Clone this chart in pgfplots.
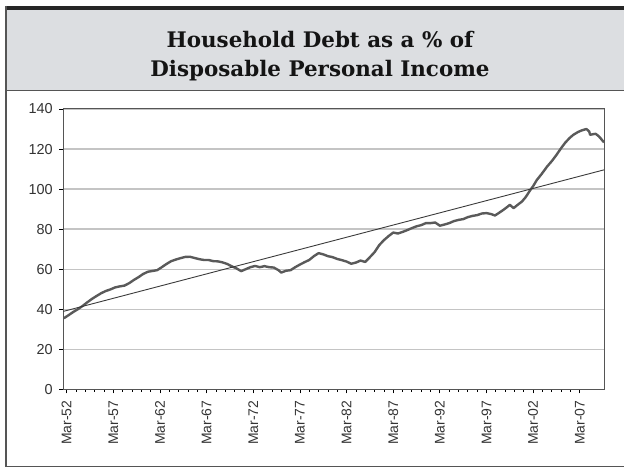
\documentclass[border=0pt]{standalone}
\usepackage{pgfplots}
\pgfplotsset{compat=1.18}
\usepackage{fontspec}
\newfontfamily\labelfont{Liberation Sans}
\newfontfamily\titlefont{DejaVu Serif}
\definecolor{bandgray}{HTML}{DCDEE1}
\definecolor{framegray}{HTML}{555555}
\definecolor{gridgray}{HTML}{C4C4C4}
\definecolor{curvegray}{HTML}{5A5A5A}
\definecolor{trendgray}{HTML}{3A3A3A}
\definecolor{labelgray}{HTML}{333333}
\begin{document}
\begin{tikzpicture}[x=1bp,y=1bp]
\useasboundingbox (0,0) rectangle (624,468);
% title band
\fill[bandgray] (6,458) rectangle (624,377.3);
\fill[black!85] (6,462) rectangle (624,458);
\draw[framegray,line width=1.5bp] (6,377.3) -- (624,377.3);
\draw[framegray,line width=1.2bp] (6,462) -- (6,1.3) -- (624,1.3);
\node[font={\titlefont\bfseries\fontsize{21.5}{29}\selectfont},align=center,text=black!92] at (320,412) {Household Debt as a \% of\\Disposable Personal Income};
\begin{axis}[
  at={(63.3bp,78.7bp)}, anchor=south west,
  scale only axis, width=540.7bp, height=280.3bp,
  xmin=1951.64, xmax=2009.59, ymin=0, ymax=140,
  ytick={0,20,...,140},
  xtick={1952,1957,...,2007},
  xticklabels={Mar-52,Mar-57,Mar-62,Mar-67,Mar-72,Mar-77,Mar-82,Mar-87,Mar-92,Mar-97,Mar-02,Mar-07},
  minor x tick num=4,
  xticklabel style={rotate=90,anchor=east,font={\labelfont\fontsize{14}{16}\selectfont},text=labelgray,xshift=-4bp},
  yticklabel style={font={\labelfont\fontsize{14.5}{16}\selectfont},text=labelgray,xshift=-3bp},
  /pgf/number format/assume math mode=true,
  ymajorgrids, grid style={gridgray,line width=1.3bp},
  axis line style={framegray,line width=1bp},
  tick style={black,line width=0.8bp},
  tick align=outside, major tick length=4bp, minor tick length=2.5bp,
  xtick pos=bottom, ytick pos=left,
  clip=true,
]
\addplot[curvegray,line width=2.4bp,line join=round] table {
1951.70 35.5
1952.20 37.0
1952.70 38.6
1953.20 40.0
1953.70 41.6
1954.20 43.4
1954.70 45.1
1955.20 46.6
1955.70 48.0
1956.20 49.1
1956.70 49.9
1957.20 50.9
1957.70 51.4
1958.20 51.8
1958.70 53.0
1959.20 54.6
1959.70 56.0
1960.20 57.6
1960.70 58.7
1961.20 59.1
1961.70 59.5
1962.20 61.0
1962.70 62.6
1963.20 64.0
1963.70 64.8
1964.20 65.5
1964.70 66.1
1965.20 66.2
1965.70 65.6
1966.20 65.0
1966.70 64.6
1967.20 64.6
1967.70 64.0
1968.20 63.9
1968.70 63.4
1969.20 62.6
1969.70 61.4
1970.20 60.4
1970.70 59.0
1971.20 60.0
1971.70 61.0
1972.20 61.6
1972.70 61.0
1973.20 61.5
1973.70 61.0
1974.20 60.8
1974.70 59.5
1975.00 58.3
1975.50 59.2
1976.00 59.5
1976.50 61.0
1977.00 62.3
1977.50 63.5
1978.00 64.6
1978.50 66.5
1979.00 68.0
1979.50 67.4
1980.00 66.5
1980.50 66.0
1981.00 65.1
1981.50 64.5
1982.00 63.8
1982.50 62.7
1983.00 63.3
1983.50 64.3
1984.00 63.6
1984.50 66.0
1985.00 68.5
1985.50 72.0
1986.00 74.5
1986.50 76.5
1987.00 78.3
1987.50 77.8
1988.00 78.6
1988.50 79.5
1989.00 80.5
1989.50 81.4
1990.00 82.0
1990.50 83.0
1991.00 83.0
1991.50 83.3
1992.00 81.7
1992.50 82.3
1993.00 83.0
1993.50 84.0
1994.00 84.6
1994.50 85.0
1995.00 86.0
1995.50 86.6
1996.00 87.0
1996.50 87.8
1997.00 88.0
1997.50 87.5
1997.90 86.8
1998.30 88.0
1998.80 89.6
1999.20 91.0
1999.50 92.1
1999.90 90.5
2000.30 92.0
2000.80 93.8
2001.20 96.0
2001.70 99.6
2002.00 101.5
2002.40 104.6
2002.90 107.5
2003.50 111.3
2004.00 114.0
2004.50 117.1
2005.00 120.5
2005.40 123.0
2005.90 125.5
2006.30 127.1
2006.80 128.5
2007.20 129.3
2007.70 130.0
2008.00 128.8
2008.10 127.1
2008.40 127.4
2008.70 127.6
2009.00 126.5
2009.20 125.5
2009.59 123.3
};
\addplot[trendgray,line width=0.9bp] table {
1951.64 38.9
2009.59 109.6
};
\end{axis}
\end{tikzpicture}
\end{document}
